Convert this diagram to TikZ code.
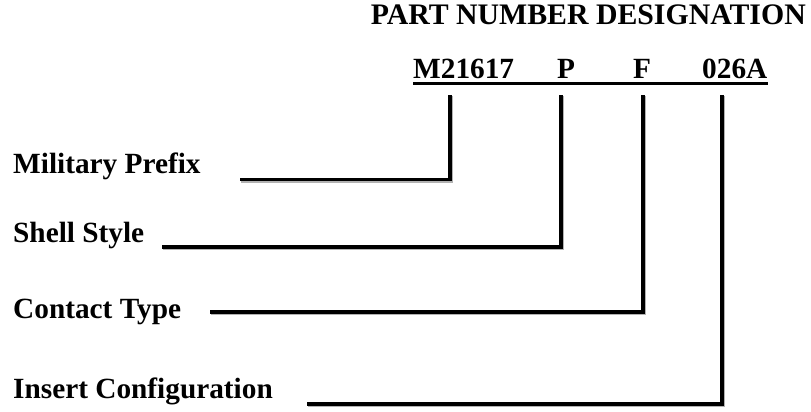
\documentclass[tikz,border=0pt]{standalone}
\usepackage{fontspec}
\setmainfont{Liberation Serif}
\begin{document}
\begin{tikzpicture}[x=1pt,y=-1pt,
  txt/.style={inner sep=0pt,font=\fontsize{29.3}{34}\selectfont\bfseries},
  lbl/.style={txt,anchor=base west},
  lead/.style={line width=3.8pt,line join=miter},
  shade/.style={line width=3.8pt,line join=miter,black!30}]
\useasboundingbox (0,0) rectangle (811,412);
% title
\node[txt,anchor=base east,font=\fontsize{29.8}{34}\selectfont\bfseries] (title) at (806,25) {PART NUMBER DESIGNATION};
% part number
\node[lbl] (m) at (413,78) {M21617};
\node[lbl] (p) at (557,78) {P};
\node[lbl] (f) at (633,78) {F};
\node[lbl] (a) at (702,78) {026A};
\coordinate (ulS) at (413,83.5);
\coordinate (ulE) at (768,83.5);
\draw[line width=2.6pt] (ulS) -- (ulE);
% labels
\node[lbl] (mil) at (13,173) {Military Prefix};
\node[lbl] (shl) at (13,242) {Shell Style};
\node[lbl] (con) at (13,318) {Contact Type};
\node[lbl] (ins) at (13,398) {Insert Configuration};
% leader end points
\coordinate (pM) at (450,95);
\coordinate (pP) at (561,95);
\coordinate (pF) at (643,95);
\coordinate (pA) at (722,95);
\coordinate (mS) at (240,179.5);
\coordinate (sS) at (162,247);
\coordinate (cS) at (210,312);
\coordinate (iS) at (307,404);
\foreach \s/\e in {mS/pM, sS/pP, cS/pF, iS/pA}
  \draw[shade] ([shift={(1.2,1.2)}]\s) -| ([shift={(1.2,1.2)}]\e);
\foreach \s/\e in {mS/pM, sS/pP, cS/pF, iS/pA}
  \draw[lead] (\s) -| (\e);
\end{tikzpicture}
\end{document}
